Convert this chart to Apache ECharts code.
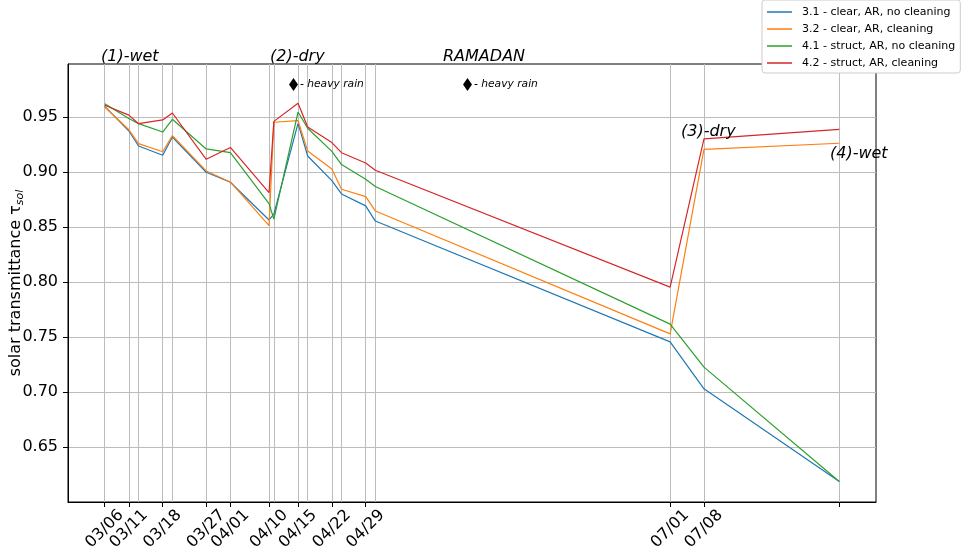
<!DOCTYPE html>
<html>
<head>
<meta charset="utf-8">
<script src="https://cdn.jsdelivr.net/npm/echarts@6/dist/echarts.min.js"></script>
<style>html,body{margin:0;padding:0;background:#fff}#c{width:973px;height:551px}</style>
</head>
<body>
<div id="c"></div>
<script>
// Measurement days (days since 03/06)
const dayIndex = [0, 5, 7, 12, 14, 21, 26, 34, 35, 40, 42, 47, 49, 54, 56, 117, 124, 152];
const tickDays = [0, 5, 12, 21, 26, 34, 40, 47, 54, 117, 124, 152];
const tickLabels = ['03/06', '03/11', '03/18', '03/27', '04/01', '04/10', '04/15', '04/22', '04/29', '07/01', '07/08', ''];
const yTicks = [0.65, 0.70, 0.75, 0.80, 0.85, 0.90, 0.95];

const seriesNames = ['3.1 - clear, AR, no cleaning', '3.2 - clear, AR, cleaning', '4.1 - struct, AR, no cleaning', '4.2 - struct, AR, cleaning'];
const s31 = [0.9600, 0.9375, 0.9239, 0.9155, 0.9321, 0.9000, 0.8909, 0.8566, 0.8620, 0.9445, 0.9148, 0.8924, 0.8803, 0.8694, 0.8556, 0.7457, 0.7030, 0.6187];
const s32 = [0.9594, 0.9387, 0.9260, 0.9187, 0.9333, 0.9012, 0.8912, 0.8515, 0.9455, 0.9469, 0.9194, 0.9030, 0.8845, 0.8778, 0.8648, 0.7530, 0.9209, 0.9264];
const s41 = [0.9624, 0.9490, 0.9442, 0.9366, 0.9482, 0.9212, 0.9178, 0.8715, 0.8573, 0.9548, 0.9400, 0.9190, 0.9070, 0.8937, 0.8870, 0.7618, 0.7227, 0.6187];
const s42 = [0.9610, 0.9520, 0.9442, 0.9476, 0.9539, 0.9118, 0.9226, 0.8815, 0.9463, 0.9627, 0.9412, 0.9270, 0.9178, 0.9084, 0.9018, 0.7955, 0.9303, 0.9391];
const colors = ['#1f77b4', '#ff7f0e', '#2ca02c', '#d62728'];

const FONT = 'DejaVu Sans';
const allSeries = [s31, s32, s41, s42];

const series = allSeries.map((vals, i) => {
  const s = {
    name: seriesNames[i],
    type: 'line',
    symbol: 'none',
    z: 3,
    lineStyle: { color: colors[i], width: 1.2 },
    itemStyle: { color: colors[i] },
    data: dayIndex.map((d, k) => [d, vals[k]])
  };
  if (i === 0) {
    s.markLine = {
      silent: true,
      z: 1,
      symbol: ['none', 'none'],
      label: { show: false },
      lineStyle: { color: '#bcbcbc', width: 1, type: 'solid' },
      data: dayIndex.map(d => ({ xAxis: d }))
    };
  }
  return s;
});

const txt = (text, x, y, size, italic) => ({
  type: 'text', x: x, y: y, z: 10,
  style: { text: text, fontSize: size, fontStyle: italic ? 'italic' : 'normal', fontFamily: FONT, fill: '#000', verticalAlign: 'middle', align: 'left' }
});
const diamond = (cx, cy) => ({
  type: 'polygon', z: 10,
  shape: { points: [[cx, cy - 6.5], [cx + 4.5, cy], [cx, cy + 6.5], [cx - 4.5, cy]] },
  style: { fill: '#000' }
});

const chart = echarts.init(document.getElementById('c'), null, { renderer: 'canvas' });
chart.setOption({
  animation: false,
  color: colors,
  textStyle: { fontFamily: FONT },
  grid: { left: 68, right: 97, top: 64, bottom: 49, outerBoundsMode: 'none', containLabel: false, show: true, borderColor: '#000', borderWidth: 1, backgroundColor: 'transparent' },
  legend: {
    data: seriesNames,
    orient: 'vertical',
    left: 762, top: 0,
    padding: [5, 5, 3, 5],
    icon: 'rect',
    itemWidth: 25, itemHeight: 1.5, itemGap: 3,
    backgroundColor: '#fff', borderColor: '#cccccc', borderWidth: 1, borderRadius: 3,
    textStyle: { fontFamily: FONT, fontSize: 11, color: '#000', lineHeight: 14, padding: [0, 0, 0, 5] }
  },
  xAxis: {
    type: 'value', min: -7.6, max: 159.6,
    axisLine: { show: true, onZero: false, lineStyle: { color: '#000', width: 1 } },
    axisTick: { show: true, length: 5, lineStyle: { color: '#000' }, customValues: tickDays },
    axisLabel: {
      customValues: tickDays, rotate: 45, align: 'center', verticalAlign: 'middle', margin: 27,
      fontFamily: FONT, fontSize: 16, color: '#000',
      formatter: v => { const k = tickDays.indexOf(v); return k >= 0 ? tickLabels[k] : ''; }
    },
    splitLine: { show: false }
  },
  yAxis: {
    type: 'value', min: 0.6, max: 0.9985, interval: 0.05,
    name: '{a|solar transmittance τ}{b|sol}',
    nameLocation: 'middle', nameRotate: 90, nameGap: 42, nameMoveOverlap: false,
    nameTextStyle: {
      rich: {
        a: { fontFamily: FONT, fontSize: 16, color: '#000', lineHeight: 20 },
        b: { fontFamily: FONT, fontSize: 11, fontStyle: 'italic', color: '#000', verticalAlign: 'bottom', lineHeight: 14, padding: [6, 0, 0, 0] }
      }
    },
    axisLine: { show: true, onZero: false, lineStyle: { color: '#000', width: 1 } },
    axisTick: { show: true, length: 5, lineStyle: { color: '#000' }, customValues: yTicks },
    axisLabel: { customValues: yTicks, margin: 10, fontFamily: FONT, fontSize: 16, color: '#000', formatter: v => v.toFixed(2) },
    splitLine: { show: true, lineStyle: { color: '#bcbcbc', width: 1 } }
  },
  graphic: [
    txt('(1)-wet', 101, 57, 16, true),
    txt('(2)-dry', 270, 57, 16, true),
    txt('RAMADAN', 443, 57, 16, true),
    txt('(3)-dry', 681, 132, 16, true),
    txt('(4)-wet', 830, 154, 16, true),
    diamond(293.5, 84.5),
    txt('- heavy rain', 300, 84, 10.7, true),
    diamond(467.5, 84.5),
    txt('- heavy rain', 474, 84, 10.7, true)
  ],
  series: series
});
</script>
</body>
</html>
